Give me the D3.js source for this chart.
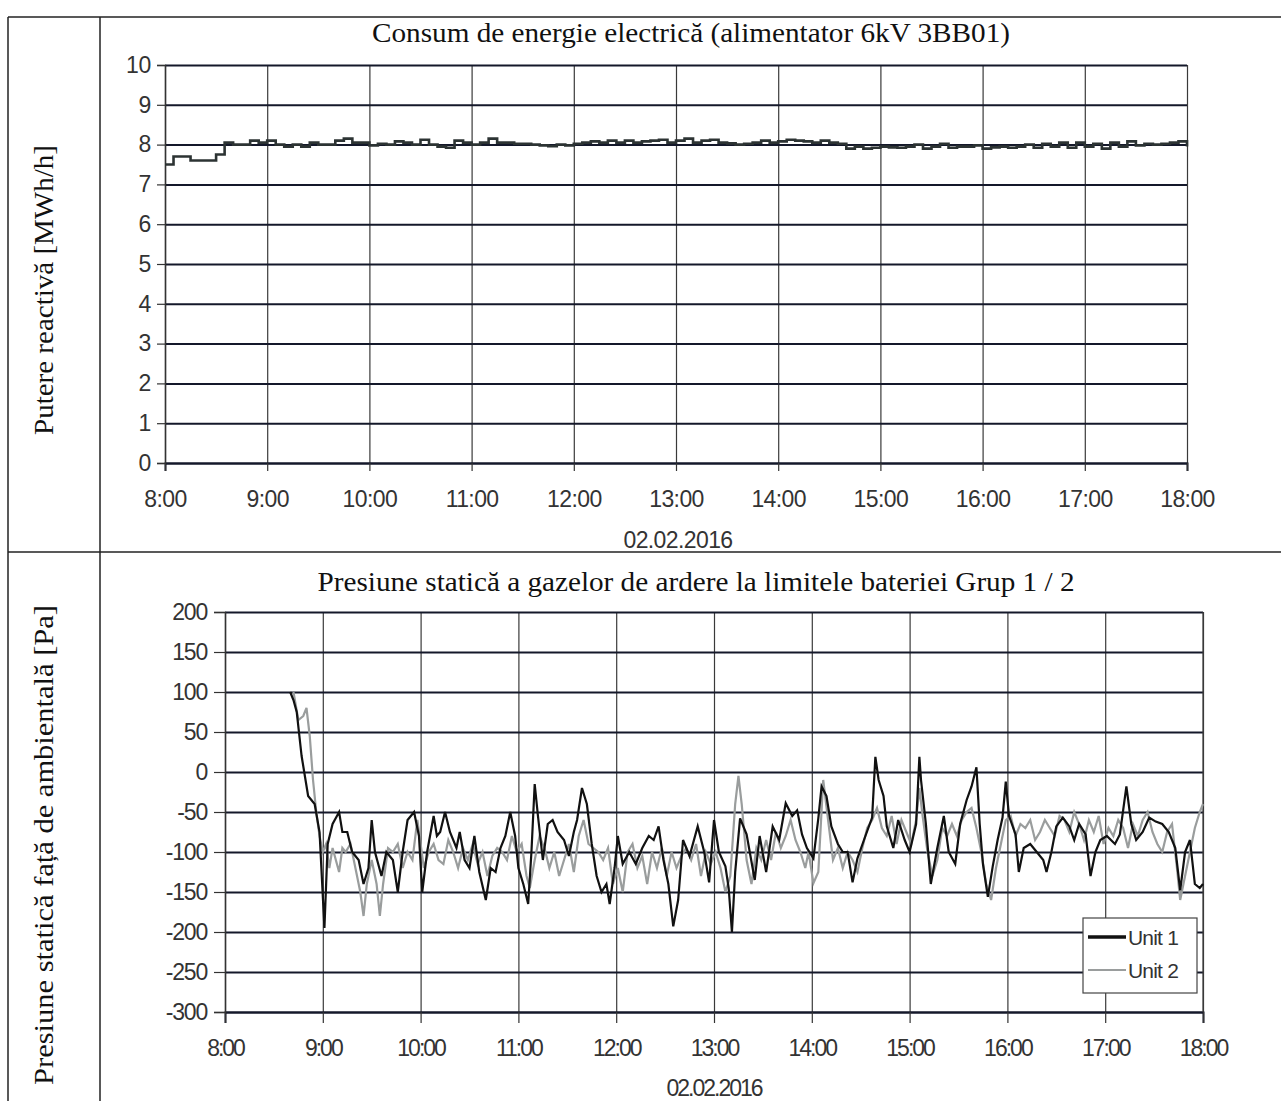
<!DOCTYPE html>
<html><head><meta charset="utf-8">
<script src="https://cdn.jsdelivr.net/npm/d3@7"></script>
<style>
body{margin:0;background:#fff}
svg{display:block}
.serif{font-family:'Liberation Serif','Times New Roman',serif;fill:#111}
.sans{font-family:'Liberation Sans',Arial,sans-serif;fill:#333}
</style></head>
<body>
<script>
// ---------- DATA ----------
const chartDate = "02.02.2016";
const topTitle = "Consum de energie electrică (alimentator 6kV 3BB01)";
const topYLabel = "Putere reactivă [MWh/h]";
const bottomTitle = "Presiune statică a gazelor de ardere la limitele bateriei Grup 1 / 2";
const bottomYLabel = "Presiune statică față de ambientală [Pa]";
const hourTicks = ["8:00","9:00","10:00","11:00","12:00","13:00","14:00","15:00","16:00","17:00","18:00"];
const topYTicks = [0,1,2,3,4,5,6,7,8,9,10];
const bottomYTicks = [-300,-250,-200,-150,-100,-50,0,50,100,150,200];
const seriesNames = ["Unit 1","Unit 2"];

// Reactive power, one value every 5 minutes from 8:00 to 18:00
const powerStepMinutes = 5;
const powerValues = [
7.5,7.7,7.7,7.6,7.6,7.6,7.75,8.05,8.0,8.0,8.1,8.05,
8.1,8.0,7.95,8.0,7.95,8.05,8.0,8.0,8.1,8.15,8.05,8.05,
7.98,8.02,8.0,8.08,8.05,8.0,8.12,8.0,7.95,7.92,8.1,8.05,
8.0,8.05,8.15,8.05,8.05,8.02,8.02,8.0,7.98,7.96,8.0,7.98,
8.02,8.05,8.08,8.05,8.1,8.05,8.1,8.05,8.08,8.1,8.12,8.05,
8.1,8.15,8.05,8.1,8.12,8.05,8.03,8.0,8.02,8.05,8.1,8.05,
8.08,8.12,8.1,8.08,8.05,8.1,8.05,8.02,7.9,7.95,7.9,7.92,
7.95,7.93,7.92,7.95,8.0,7.9,7.95,8.02,7.92,7.95,7.95,7.98,
7.9,7.93,7.95,7.92,7.95,8.0,7.92,8.02,7.95,8.05,7.92,8.05,
7.95,8.02,7.9,8.05,7.95,8.08,7.98,8.02,8.0,8.02,8.05,8.08,
7.95];

// Static pressure, [minutes after 8:00, Pa]
const unit1 = [
[40,100],[42,90],[44,75],[47,20],[51,-30],[55,-40],[58,-75],[61,-195],[63,-90],[66,-65],[70,-50],[72,-75],
[75,-75],[78,-100],[82,-110],[85,-140],[88,-120],[90,-60],[92,-100],[96,-130],[99,-100],[103,-110],[106,-150],
[109,-100],[112,-60],[116,-50],[119,-80],[121,-150],[124,-100],[128,-55],[130,-80],[132,-75],[135,-50],[138,-75],
[142,-95],[144,-75],[147,-110],[150,-120],[153,-80],[156,-125],[160,-160],[163,-120],[166,-125],[169,-95],
[172,-80],[175,-50],[178,-80],[180,-120],[183,-140],[186,-165],[188,-100],[190,-15],[192,-55],[195,-110],
[198,-65],[201,-60],[204,-75],[208,-85],[211,-105],[214,-75],[216,-60],[219,-20],[222,-40],[225,-90],
[228,-130],[231,-150],[234,-140],[236,-165],[239,-120],[241,-80],[244,-115],[248,-100],[252,-115],[256,-95],
[260,-80],[263,-85],[266,-68],[269,-110],[272,-140],[275,-193],[278,-160],[281,-85],[285,-105],[290,-68],
[294,-100],[297,-138],[300,-60],[303,-100],[307,-118],[309,-145],[311,-200],[313,-125],[316,-58],[320,-78],
[325,-135],[328,-80],[332,-125],[336,-68],[340,-85],[344,-39],[348,-55],[351,-48],[354,-78],[357,-95],
[361,-108],[364,-58],[366,-18],[369,-30],[372,-68],[376,-90],[379,-100],[382,-100],[385,-138],[388,-108],
[392,-85],[397,-57],[399,19],[401,-10],[404,-30],[406,-68],[410,-95],[413,-60],[417,-85],[420,-100],
[424,-65],[426,19],[427,-10],[430,-65],[433,-140],[437,-95],[441,-55],[444,-100],[448,-115],[451,-65],
[455,-35],[458,-18],[461,6],[463,-65],[465,-115],[468,-156],[471,-118],[474,-85],[477,-57],[479,-12],
[481,-55],[485,-78],[487,-125],[490,-95],[494,-90],[498,-100],[502,-110],[504,-125],[507,-100],[510,-68],
[514,-57],[518,-68],[521,-85],[524,-65],[528,-78],[531,-130],[534,-100],[537,-85],[541,-80],[546,-90],
[549,-78],[553,-18],[556,-65],[559,-85],[563,-75],[567,-57],[571,-62],[575,-65],[579,-75],[583,-95],
[586,-148],[589,-100],[592,-85],[595,-140],[598,-145],[600,-140]];

const unit2 = [
[42,100],[45,65],[48,70],[50,80],[52,45],[54,-10],[56,-50],[58,-80],[60,-100],[62,-90],[64,-120],[66,-95],
[68,-110],[70,-125],[72,-95],[74,-100],[77,-90],[80,-120],[83,-150],[85,-180],[87,-140],[90,-110],[93,-140],
[95,-180],[97,-140],[100,-95],[103,-100],[106,-90],[109,-120],[112,-100],[115,-110],[118,-60],[120,-90],
[122,-120],[125,-100],[128,-90],[131,-110],[134,-115],[137,-85],[140,-100],[143,-120],[146,-95],[149,-110],
[152,-90],[155,-115],[158,-100],[161,-130],[164,-105],[167,-95],[170,-100],[173,-110],[176,-80],[179,-100],
[182,-90],[185,-130],[187,-145],[190,-110],[193,-80],[196,-95],[199,-120],[202,-100],[205,-130],[208,-110],
[211,-90],[214,-125],[217,-80],[220,-60],[223,-90],[226,-95],[229,-100],[232,-110],[235,-95],[238,-140],
[241,-120],[244,-150],[247,-100],[250,-90],[253,-120],[256,-105],[259,-140],[262,-100],[265,-120],[268,-95],
[271,-130],[274,-100],[277,-120],[280,-105],[283,-95],[286,-110],[289,-90],[292,-130],[295,-100],[298,-115],
[301,-100],[304,-120],[307,-150],[310,-130],[313,-40],[315,-5],[317,-40],[320,-110],[323,-140],[326,-95],
[329,-110],[332,-85],[335,-110],[338,-75],[341,-95],[344,-80],[347,-60],[350,-85],[353,-100],[356,-120],
[358,-100],[361,-139],[364,-125],[367,-10],[370,-60],[373,-110],[376,-95],[379,-120],[382,-100],[385,-110],
[388,-125],[391,-95],[394,-70],[397,-60],[400,-45],[403,-70],[406,-80],[409,-55],[412,-90],[415,-60],
[418,-75],[421,-90],[424,-60],[426,-20],[428,-55],[431,-100],[434,-130],[437,-110],[440,-70],[443,-80],
[446,-65],[449,-80],[452,-60],[455,-50],[458,-45],[461,-70],[464,-100],[467,-140],[470,-160],[473,-120],
[476,-90],[479,-60],[482,-55],[485,-80],[488,-65],[491,-70],[494,-60],[497,-85],[500,-75],[503,-60],
[506,-70],[509,-80],[512,-55],[515,-60],[518,-75],[521,-50],[524,-65],[527,-85],[530,-60],[533,-75],
[536,-55],[539,-90],[542,-70],[545,-80],[548,-60],[551,-70],[554,-95],[557,-65],[560,-80],[563,-60],
[566,-50],[569,-75],[572,-90],[575,-100],[578,-75],[581,-65],[584,-120],[586,-160],[589,-130],[592,-100],
[595,-70],[598,-50],[600,-40]];

// ---------- DRAW ----------
const W = 1281, H = 1101;
const t0 = new Date(2016, 1, 2, 8, 0);
const t1 = new Date(2016, 1, 2, 18, 0);
const atMin = m => d3.timeMinute.offset(t0, m);
const hourDates = hourTicks.map(s => { const [h, mm] = s.split(":").map(Number); return new Date(2016,1,2,h,mm); });
const fmt = d3.timeFormat("%-H:%M");

const svg = d3.select("body").append("svg").attr("width", W).attr("height", H);
svg.append("rect").attr("width", W).attr("height", H).attr("fill", "#fff");

// table frame
const frame = svg.append("g").attr("stroke", "#222").attr("stroke-width", 1.5);
frame.append("line").attr("x1", 8).attr("x2", W).attr("y1", 17).attr("y2", 17);
frame.append("line").attr("x1", 8).attr("x2", 8).attr("y1", 17).attr("y2", H);
frame.append("line").attr("x1", 100).attr("x2", 100).attr("y1", 17).attr("y2", H);
frame.append("line").attr("x1", 8).attr("x2", W).attr("y1", 552).attr("y2", 552);

function panel(cfg) {
  const g = svg.append("g");
  const x = d3.scaleTime().domain([t0, t1]).range([cfg.x0, cfg.x1]);
  const y = d3.scaleLinear().domain(cfg.yDomain).range([cfg.yBottom, cfg.yTop]);

  // vertical grid
  g.append("g").attr("transform", `translate(0,${cfg.yBottom})`)
    .call(d3.axisBottom(x).tickValues(hourDates).tickSize(-(cfg.yBottom - cfg.yTop)).tickFormat(""))
    .call(a => a.select(".domain").remove())
    .call(a => a.selectAll("line").attr("stroke", "#3a3a3a").attr("stroke-width", 1.2));
  // horizontal grid
  g.append("g").attr("transform", `translate(${cfg.x0},0)`)
    .call(d3.axisLeft(y).tickValues(cfg.yTicks).tickSize(-(cfg.x1 - cfg.x0)).tickFormat(""))
    .call(a => a.select(".domain").remove())
    .call(a => a.selectAll("line").attr("stroke", "#14182a").attr("stroke-width", 2));

  // axes with ticks and labels
  const ax = g.append("g").attr("transform", `translate(0,${cfg.yBottom})`)
    .call(d3.axisBottom(x).tickValues(hourDates).tickSize(cfg.tick).tickPadding(cfg.xPad).tickFormat(fmt));
  ax.select(".domain").attr("stroke", "#14182a").attr("stroke-width", 2);
  ax.selectAll("line").attr("stroke", "#333").attr("stroke-width", 1.2);
  ax.selectAll("text").attr("class", "sans").attr("font-size", cfg.fs).attr("fill", "#333")
    .attr("letter-spacing", cfg.ls).attr("font-family", null);
  const ay = g.append("g").attr("transform", `translate(${cfg.x0},0)`)
    .call(d3.axisLeft(y).tickValues(cfg.yTicks).tickSize(cfg.tick).tickPadding(cfg.yPad).tickFormat(d => String(d)));
  ay.select(".domain").attr("stroke", "#333").attr("stroke-width", 1.5);
  ay.selectAll("line").attr("stroke", "#333").attr("stroke-width", 1.2);
  ay.selectAll("text").attr("class", "sans").attr("font-size", cfg.fs).attr("fill", "#333")
    .attr("letter-spacing", cfg.yls).attr("font-family", null);

  // titles
  svg.append("text").attr("class", "serif").attr("x", cfg.titleX).attr("y", cfg.titleY)
    .attr("text-anchor", "middle").attr("font-size", 28)
    .attr("textLength", cfg.titleLen).attr("lengthAdjust", "spacingAndGlyphs").text(cfg.title);
  svg.append("text").attr("class", "sans").attr("x", cfg.dateX).attr("y", cfg.dateY)
    .attr("text-anchor", "middle").attr("font-size", cfg.fs).attr("letter-spacing", cfg.ls).text(chartDate);
  svg.append("text").attr("class", "serif").attr("transform", `translate(${cfg.ylX},${cfg.ylY}) rotate(-90)`)
    .attr("text-anchor", "middle").attr("font-size", 28)
    .attr("textLength", cfg.ylLen).attr("lengthAdjust", "spacingAndGlyphs").text(cfg.yLabel);
  return {g, x, y};
}

// top panel
const P1 = panel({x0:165, x1:1187, yTop:65, yBottom:463, yDomain:[0,10], yTicks:topYTicks, tick:8, xPad:20, yPad:6,
  fs:23, ls:-0.6, yls:-0.3, title:topTitle, titleX:691, titleY:42, titleLen:638, dateX:678, dateY:548,
  yLabel:topYLabel, ylX:53, ylY:290, ylLen:290});
P1.g.append("path")
  .datum(powerValues)
  .attr("fill", "none").attr("stroke", "#2c3333").attr("stroke-width", 2.6)
  .attr("d", d3.line().curve(d3.curveStepAfter)
    .x((d, i) => P1.x(atMin(i * powerStepMinutes))).y(d => P1.y(d)));

// bottom panel
const P2 = panel({x0:225, x1:1203, yTop:612, yBottom:1012, yDomain:[-300,200], yTicks:bottomYTicks, tick:11, xPad:17, yPad:7,
  fs:23, ls:-2, yls:-1.2, title:bottomTitle, titleX:696, titleY:591, titleLen:757, dateX:714, dateY:1096,
  yLabel:bottomYLabel, ylX:53, ylY:845, ylLen:480});
// right border line of bottom plot
P2.g.append("line").attr("x1", 1203).attr("x2", 1203).attr("y1", 612).attr("y2", 1012).attr("stroke", "#3a3a3a").attr("stroke-width", 1.2);

const pline = d3.line().x(d => P2.x(atMin(d[0]))).y(d => P2.y(d[1]));
const colors = ["#111111", "#9a9d9d"];
P2.g.append("path").datum(unit2).attr("fill", "none").attr("stroke", colors[1]).attr("stroke-width", 2.2).attr("d", pline);
P2.g.append("path").datum(unit1).attr("fill", "none").attr("stroke", colors[0]).attr("stroke-width", 2.2).attr("d", pline);

// legend
const lg = svg.append("g").attr("transform", "translate(1083,918)");
lg.append("rect").attr("width", 114).attr("height", 75).attr("fill", "#fff").attr("stroke", "#444").attr("stroke-width", 1.2);
seriesNames.forEach((n, i) => {
  const yy = 19 + i * 33;
  lg.append("line").attr("x1", 5).attr("x2", 43).attr("y1", yy).attr("y2", yy)
    .attr("stroke", colors[i]).attr("stroke-width", i === 0 ? 3.5 : 2);
  lg.append("text").attr("class", "sans").attr("x", 45).attr("y", yy + 8).attr("font-size", 21)
    .attr("letter-spacing", -0.8).text(n);
});
</script>
</body></html>
